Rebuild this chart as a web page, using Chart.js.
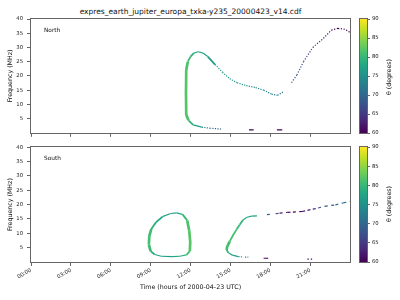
<!DOCTYPE html>
<html lang="en">
<head>
<meta charset="UTF-8">
<title>expres_earth_jupiter_europa_txka-y235_20000423_v14.cdf</title>
<script src="https://cdn.jsdelivr.net/npm/chart.js@4"></script>
<style>
  body { margin: 0; background: #fff; font-family: 'DejaVu Sans', sans-serif; }
  #wrap { position: relative; width: 400px; height: 300px; overflow: hidden; }
  canvas { position: absolute; }
  .title { position: absolute; left: 31px; width: 319px; top: 7.5px; line-height: 8px; text-align: center; font-size: 7.5px; color: #111; white-space: nowrap; }
  .cblabel { position: absolute; font-size: 6.3px; color: #111; white-space: nowrap; transform: translate(-50%, -50%) rotate(-90deg); }
</style>
</head>
<body>
<div id="wrap">
  <div class="title">expres_earth_jupiter_europa_txka-y235_20000423_v14.cdf</div>
  <canvas id="north" width="356" height="140" style="left:0;top:0"></canvas>
  <canvas id="south" width="356" height="160" style="left:0;top:140px"></canvas>
  <canvas id="cbNorth" width="44" height="140" style="left:356px;top:0"></canvas>
  <canvas id="cbSouth" width="44" height="160" style="left:356px;top:140px"></canvas>
  <div class="cblabel" style="left:388px;top:77px">θ (degrees)</div>
  <div class="cblabel" style="left:388px;top:204px">θ (degrees)</div>
</div>
<script>
// tick values
const hourTicks = [0, 3, 6, 9, 12, 15, 18, 21];
const freqTicks = [5, 10, 15, 20, 25, 30, 35, 40];
const thetaTicks = [60, 65, 70, 75, 80, 85, 90];

// North hemisphere: hours, MHz, theta (deg)
const northMainT  = [14.3, 13.5, 12.85, 12.2, 11.85, 11.68, 11.66, 11.68, 11.8, 12.0, 12.25, 12.55, 12.9, 13.3, 13.85, 14.4, 14.95, 15.5, 16.2, 16.9, 17.5, 18.1, 18.55, 18.95];
const northMainF  = [1.3, 1.6, 2.0, 2.8, 4.4, 6.3, 14.0, 22.1, 25.0, 26.8, 28.0, 28.5, 28.1, 26.8, 24.0, 21.3, 19.0, 17.6, 16.6, 15.9, 15.0, 13.6, 13.2, 14.3];
const northMainTh = [67, 72, 75, 78, 81, 82, 82, 82, 81, 79.5, 78.5, 78, 77.5, 77, 76.5, 76, 75.5, 75, 75, 74.5, 74, 73.5, 72, 70];

const northRiseT  = [19.6, 20.0, 20.5, 21.2, 22.0, 22.6, 23.1, 23.6, 24.0];
const northRiseF  = [17.6, 20.3, 25.0, 30.0, 33.2, 36.1, 36.7, 36.4, 35.3];
const northRiseTh = [68, 67, 66, 65, 63, 61, 60, 60, 60];

const northLowT  = [16.4, 16.75, null, 18.5, 18.9];
const northLowF  = [1.0, 1.0, null, 1.0, 1.0];
const northLowTh = [60, 60, null, 60, 60];

// South hemisphere
const southLoopT  = [10.6, 9.8, 9.3, 9.0, 8.87, 8.9, 9.05, 9.4, 9.9, 10.5, 10.95, 11.4, 11.75, 11.9, 11.98, 11.95, 11.7, 11.2, 10.6];
const southLoopF  = [1.9, 2.0, 2.6, 3.8, 6.0, 9.0, 11.5, 13.8, 15.8, 16.9, 17.1, 16.6, 14.5, 11.0, 7.0, 3.8, 2.5, 2.0, 1.9];
const southLoopTh = [77, 77, 78, 80, 81, 81, 80, 78.5, 77.5, 77, 77, 79, 81, 82, 82, 82, 80, 78, 77];

const southHookT  = [17.0, 16.6, 16.25, 15.95, 15.7, 15.45, 15.2, 14.95, 14.75, 14.72, 14.85, 15.15, 15.6, 15.9, null, 16.1, 16.35];
const southHookF  = [16.1, 16.0, 15.6, 14.6, 13.0, 11.2, 9.3, 7.2, 5.2, 4.2, 3.2, 2.4, 1.9, 1.8, null, 1.7, 1.7];
const southHookTh = [77, 77, 78, 79, 80, 81, 81, 81, 81, 81, 79, 77, 76, 75, null, 71, 71];

const southTailT  = [17.75, 18.0, null, 18.4, 18.7, 19.3, 19.7, 20.4, 20.8, 21.2, 21.6, 22.1, 22.9, 23.5, 24.0];
const southTailF  = [16.5, 16.6, null, 16.8, 17.0, 17.3, 17.35, 17.6, 18.0, 18.4, 18.8, 19.4, 19.9, 20.6, 21.1];
const southTailTh = [70, 70, null, 67, 65, 60, 60, 61, 62, 63, 65, 68, 70, 71, 72];

const southLowT  = [17.5, 17.85, null, 20.8, 20.9, null, 21.05, 21.15];
const southLowF  = [1.3, 1.3, null, 1.0, 1.0, null, 1.0, 1.0];
const southLowTh = [60, 60, null, 61, 61, null, 61, 61];

const VIR = ['#440154', '#482475', '#414487', '#355f8d', '#2a788e', '#21918c', '#22a884', '#44bf70', '#7ad151', '#bddf26', '#fde725'];

function hex(c) { return [1, 3, 5].map(i => parseInt(c.substr(i, 2), 16)); }
function viridis(theta) {
  let t = Math.min(1, Math.max(0, (theta - 60) / 30)) * 10;
  const i = Math.min(9, Math.floor(t)), f = t - i;
  const a = hex(VIR[i]), b = hex(VIR[i + 1]);
  return 'rgb(' + a.map((v, k) => Math.round(v + (b[k] - v) * f)).join(',') + ')';
}

Chart.defaults.font.family = "'DejaVu Sans', sans-serif";
const tickFont = { size: 5.3 };
const tickColor = '#222';
const edge = '#666';

function track(T, F, TH, dash) {
  const avg = c => (TH[c.p0DataIndex] + TH[c.p1DataIndex]) / 2;
  const sparse = c => avg(c) < 76.5 && dash.length > 0;
  return {
    data: T.map((t, i) => ({ x: t, y: F[i] })),
    showLine: true,
    pointRadius: 0,
    borderWidth: 1.1,
    borderColor: viridis(TH[0]),
    borderJoinStyle: 'round',
    spanGaps: false,
    segment: {
      borderColor: c => viridis(avg(c)),
      borderWidth: c => {
        if (sparse(c)) return 1.2;
        const dx = Math.abs(c.p1.x - c.p0.x), dy = Math.abs(c.p1.y - c.p0.y);
        const r = dy / (dx + 0.01);
        return r > 2 ? 2.7 : r > 0.8 ? 1.8 : 1.2;
      },
      borderDash: c => sparse(c) ? dash : undefined
    }
  };
}

const frame = {
  id: 'frame',
  afterDraw(chart) {
    const a = chart.chartArea, ctx = chart.ctx;
    ctx.save();
    ctx.strokeStyle = edge;
    ctx.lineWidth = 1;
    ctx.strokeRect(Math.round(a.left) - 0.5, Math.round(a.top) - 0.5, Math.round(a.right - a.left) + 1, Math.round(a.bottom - a.top) + 1);
    ctx.restore();
  }
};

function panelText(text) {
  return {
    id: 'panelText',
    afterDraw(chart) {
      const a = chart.chartArea, ctx = chart.ctx;
      ctx.save();
      ctx.font = "5.8px 'DejaVu Sans', sans-serif";
      ctx.fillStyle = '#111';
      ctx.textBaseline = 'middle';
      ctx.fillText(text, a.left + 13, a.top + 11);
      ctx.restore();
    }
  };
}

function mainScales(showX) {
  return {
    x: {
      type: 'linear', min: 0, max: 24,
      afterBuildTicks: s => { s.ticks = hourTicks.map(v => ({ value: v })); },
      afterFit: s => { s.height = showX ? 38 : 7; },
      ticks: {
        display: showX, autoSkip: false, maxRotation: 30, minRotation: 30, padding: 1,
        font: tickFont, color: tickColor,
        callback: v => String(v).padStart(2, '0') + ':00'
      },
      grid: { drawOnChartArea: false, tickLength: 4, color: edge },
      border: { display: false },
      title: { display: showX, text: 'Time (hours of 2000-04-23 UTC)', font: { size: 6.3 }, color: '#111', padding: { top: 0, bottom: 9.2 } }
    },
    y: {
      min: 0, max: 40,
      afterBuildTicks: s => { s.ticks = freqTicks.map(v => ({ value: v })); },
      afterFit: s => { s.width = 31; },
      ticks: { padding: 4, font: tickFont, color: tickColor },
      grid: { drawOnChartArea: false, tickLength: 4, color: edge },
      border: { display: false },
      title: { display: true, text: 'Frequency (MHz)', font: { size: 6.3 }, color: '#111', padding: { top: 6.2, bottom: 0 } }
    }
  };
}

function panel(id, datasets, label, showX, padTop) {
  new Chart(document.getElementById(id), {
    type: 'scatter',
    data: { datasets },
    options: {
      responsive: false,
      animation: false,
      layout: { padding: { left: 0, right: 6, top: padTop, bottom: 0 } },
      plugins: { legend: { display: false }, tooltip: { enabled: false } },
      scales: mainScales(showX)
    },
    plugins: [frame, panelText(label)]
  });
}

function colorbar(id, padTop, padBottom) {
  new Chart(document.getElementById(id), {
    type: 'bar',
    data: {
      labels: [''],
      datasets: [{
        data: [[thetaTicks[0], thetaTicks[thetaTicks.length - 1]]],
        barPercentage: 1, categoryPercentage: 1, borderWidth: 0,
        backgroundColor: c => {
          const ch = c.chart, y = ch.scales.y;
          if (!ch.chartArea || !y) return 'transparent';
          const g = ch.ctx.createLinearGradient(0, y.getPixelForValue(60), 0, y.getPixelForValue(90));
          VIR.forEach((col, i) => g.addColorStop(i / 10, col));
          return g;
        }
      }]
    },
    options: {
      responsive: false,
      animation: false,
      layout: { padding: { left: 4, right: 0, top: padTop, bottom: padBottom } },
      plugins: { legend: { display: false }, tooltip: { enabled: false } },
      scales: {
        x: { display: false },
        y: {
          position: 'right', min: 60, max: 90,
          afterBuildTicks: s => { s.ticks = thetaTicks.map(v => ({ value: v })); },
          afterFit: s => { s.width = 33; },
          ticks: { padding: 2, font: tickFont, color: tickColor },
          grid: { drawOnChartArea: false, tickLength: 3, color: edge },
          border: { display: false }
        }
      }
    },
    plugins: [frame]
  });
}

panel('north', [
  track(northMainT, northMainF, northMainTh, [1.2, 1.3]),
  track(northRiseT, northRiseF, northRiseTh, [1.2, 1.6]),
  track(northLowT, northLowF, northLowTh, [])
], 'North', false, 19);

panel('south', [
  track(southLoopT, southLoopF, southLoopTh, [1.2, 1.3]),
  track(southHookT, southHookF, southHookTh, [1.2, 1.3]),
  track(southTailT, southTailF, southTailTh, [3, 3.5]),
  track(southLowT, southLowF, southLowTh, [])
], 'South', true, 7);

colorbar('cbNorth', 19, 7);
colorbar('cbSouth', 7, 38);
</script>
</body>
</html>
